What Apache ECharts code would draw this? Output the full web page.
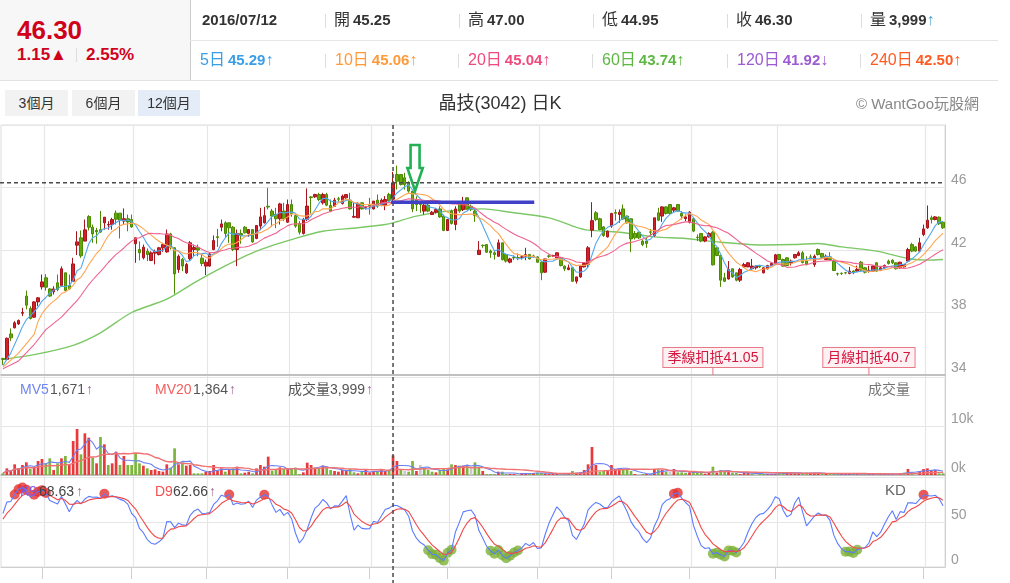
<!DOCTYPE html>
<html><head><meta charset="utf-8">
<script src="https://cdn.jsdelivr.net/npm/echarts/dist/echarts.min.js"></script>
<style>
html,body{margin:0;padding:0;width:1010px;height:583px;overflow:hidden;background:#fff;font-family:"Liberation Sans","Noto Sans CJK TC",Arial,sans-serif;}
#chart{position:absolute;left:0;top:0;width:1010px;height:583px;}
.a{position:absolute;white-space:nowrap;}
.b{font-weight:bold;}
.sep{position:absolute;width:1px;height:14px;background:#ddd;}
.btn{position:absolute;top:90px;height:26px;line-height:26px;text-align:center;font-size:14px;color:#333;background:#f2f2f2;}
</style></head>
<body>
<div id="chart"></div>
<div class="a" style="left:0;top:0;width:190px;height:80px;background:#f7f7f7;border-right:1px solid #ccc;"></div>
<div class="a" style="left:190px;top:40px;width:808px;height:1px;background:#e6e6e6;"></div>
<div class="a" style="left:0;top:80px;width:998px;height:1px;background:#e2e2e2;"></div>
<div class="a b" style="left:17px;top:17px;font-size:26px;line-height:26px;color:#d0021b;">46.30</div>
<div class="a b" style="left:17px;top:46px;font-size:17px;line-height:17px;color:#d0021b;">1.15▲</div>
<div class="a" style="left:76px;top:48px;width:1px;height:14px;background:#ddd;"></div>
<div class="a b" style="left:86px;top:46px;font-size:17px;line-height:17px;color:#d0021b;">2.55%</div>
<div id="hdr"></div>
<div class="btn" style="left:5px;width:63px;">3個月</div>
<div class="btn" style="left:72px;width:63px;">6個月</div>
<div class="btn" style="left:138px;width:62px;background:#e4edf7;">12個月</div>
<div class="a" style="left:400px;width:200px;top:93px;text-align:center;font-size:18px;line-height:20px;color:#333;">晶技(3042) 日K</div>
<div class="a" style="left:779px;width:200px;top:95px;text-align:right;font-size:15px;line-height:18px;color:#888;">© WantGoo玩股網</div>
<script>
// ---------- data ----------
const monthDays = [
 ['2016/02',[15,16,17,18,19,22,23,24,25,26]],
 ['2016/03',[1,2,3,4,7,8,9,10,11,14,15,16,17,18,21,22,23,24,25,28,29,30,31]],
 ['2016/04',[1,6,7,8,11,12,13,14,15,18,19,20,21,22,25,26,27,28,29]],
 ['2016/05',[3,4,5,6,9,10,11,12,13,16,17,18,19,20,23,24,25,26,27,30,31]],
 ['2016/06',[1,2,3,4,6,7,8,13,14,15,16,17,20,21,22,23,24,27,28,29,30]],
 ['2016/07',[1,4,5,6,7,11,12,13,14,15,18,19,20,21,22,25,26,27,28,29]],
 ['2016/08',[1,2,3,4,5,8,9,10,11,12,15,16,17,18,19,22,23,24,25,26,29,30,31]],
 ['2016/09',[1,2,5,6,7,8,9,10,12,13,14,19,20,21,22,23,26,29,30]],
 ['2016/10',[3,4,5,6,7,11,12,13,14,17,18,19,20,21,24,25,26,27,28,31]],
 ['2016/11',[1,2,3,4,7,8,9,10,11,14,15,16,17,18,21,22,23,24,25,28,29,30]],
 ['2016/12',[1,2,5,6,7,8,9,12,13,14,15,16,19,20,21,22,23,26,27,28,29,30]],
 ['2017/01',[3,4,5,6,9,10,11,12,13,16,17,18,19,20,23,24]],
 ['2017/02',[2,3,6,7,8,9]]
];
const gridMonths = ['2016/03','2016/04','2016/05','2016/06','2016/07','2016/08','2016/09','2016/10','2016/11','2016/12','2017/02'];

const opens = [35.05,35.00,36.63,37.02,37.27,37.95,39.05,38.26,37.70,38.68,39.64,40.22,39.51,39.32,39.90,39.73,40.54,39.73,40.00,42.31,
42.78,42.57,44.14,43.46,43.25,43.30,43.74,43.60,43.63,44.36,44.36,43.85,44.00,43.95,42.40,42.03,41.50,41.92,41.33,41.80,
41.71,42.14,41.88,43.03,42.14,40.75,41.40,40.54,41.44,42.03,42.14,41.48,40.97,40.97,42.03,42.85,43.46,43.74,43.74,43.46,
42.03,43.05,43.46,43.06,43.31,42.74,43.53,43.74,44.80,44.49,44.28,44.00,44.49,43.78,44.91,44.20,43.70,43.06,43.95,45.40,
45.40,45.55,45.02,45.55,44.85,44.80,45.28,44.98,45.34,45.19,44.10,44.06,45.02,44.68,44.85,44.63,45.19,44.85,44.87,45.55,
45.25,46.83,46.83,46.62,46.30,45.77,45.23,44.92,44.49,44.87,44.27,44.42,44.63,44.17,43.25,44.49,43.63,44.91,44.59,45.34,
44.80,44.49,41.71,42.30,42.35,41.93,41.82,41.60,42.46,41.71,41.22,41.52,41.52,41.54,41.60,41.71,41.62,41.56,41.22,40.58,
41.62,41.62,41.50,41.50,40.97,40.75,40.86,40.00,40.28,40.92,41.07,43.27,44.38,44.00,43.48,42.84,43.53,44.40,44.27,44.63,
44.17,44.00,43.06,43.14,42.57,42.57,43.16,42.93,44.38,44.17,44.76,44.91,44.55,44.91,44.34,44.00,43.78,44.00,42.82,43.06,
42.57,42.84,43.14,42.14,41.65,40.22,40.15,40.80,40.54,40.07,40.92,40.92,40.80,40.86,41.00,40.54,40.80,41.01,41.14,41.71,
41.39,41.50,41.18,41.50,41.65,41.82,41.29,41.56,41.07,42.03,41.78,41.39,41.56,41.29,40.48,40.51,40.55,40.50,40.65,40.65,
41.22,40.86,40.65,40.65,41.18,40.71,40.86,41.29,41.35,41.18,40.86,40.92,41.29,42.35,42.20,41.93,42.99,43.42,44.06,43.95,
44.10,43.78];
const closes = [35.00,36.35,36.38,37.34,37.49,38.00,38.47,37.62,38.68,38.94,39.96,39.62,39.05,39.51,39.47,40.80,39.41,39.51,41.11,42.52,
41.63,43.29,43.46,43.03,43.16,43.15,44.10,43.63,43.95,43.97,43.90,44.00,43.80,43.48,42.78,41.82,42.18,41.71,41.82,41.90,
42.14,42.35,43.03,42.18,40.47,41.60,40.97,41.07,42.46,42.16,42.00,41.14,41.22,41.75,42.61,42.80,43.67,43.06,43.42,42.03,
43.06,42.95,43.10,43.31,42.52,43.57,44.12,44.20,44.75,44.17,44.00,44.95,44.00,44.91,44.34,43.53,43.14,43.95,44.81,45.35,
45.55,45.23,45.55,44.87,44.49,45.19,45.25,45.45,45.55,44.63,44.15,44.98,44.63,44.72,44.75,45.13,44.81,45.19,45.23,45.15,
46.30,46.40,46.19,46.19,45.77,44.63,44.90,44.90,44.87,44.49,44.42,44.59,44.12,43.25,43.95,43.70,44.63,44.49,45.06,44.63,
44.63,44.20,41.99,42.28,41.86,41.82,41.71,42.46,41.39,41.29,41.43,41.50,41.50,41.56,41.70,41.43,41.60,41.22,40.54,41.43,
41.60,41.65,41.82,41.01,40.80,40.86,40.00,40.28,40.97,41.14,42.14,43.88,43.95,43.31,42.93,43.20,44.34,44.35,44.42,43.99,
43.74,42.71,42.78,42.78,42.35,42.42,43.14,44.06,43.91,44.76,44.34,44.34,44.70,44.49,44.17,44.12,44.42,43.21,42.80,42.57,
42.84,43.06,41.05,41.65,40.07,40.00,40.75,40.28,40.07,40.75,41.07,41.18,40.97,40.97,40.92,40.86,41.01,41.14,41.69,41.39,
40.97,41.01,41.29,41.71,41.82,41.20,41.07,41.54,41.60,41.71,41.54,41.60,41.39,40.69,40.47,40.50,40.54,40.65,40.54,40.75,
40.71,40.58,40.70,40.97,40.65,40.86,41.01,41.14,41.18,40.80,41.22,41.07,42.03,41.93,41.93,42.46,43.35,43.91,43.95,44.12,
43.68,43.42];
const lows = [34.65,34.95,36.17,36.98,37.20,37.77,38.20,37.55,37.65,38.40,39.47,39.40,39.00,39.15,39.36,39.69,39.36,39.46,39.96,41.68,
41.50,42.57,43.25,42.46,42.40,43.10,43.30,43.30,43.30,43.63,42.74,43.63,43.20,43.42,41.18,41.33,41.40,41.29,41.29,41.08,
41.65,41.88,41.82,42.03,39.20,40.54,40.65,40.47,41.33,41.60,41.60,40.97,40.40,40.93,41.99,42.20,43.20,42.80,42.46,41.93,
40.97,42.40,43.06,42.84,42.46,42.69,43.27,43.69,44.60,43.50,43.40,43.63,43.85,43.74,44.13,43.42,42.99,42.99,43.85,44.34,
45.34,45.13,44.91,44.80,44.42,44.80,45.10,44.91,45.28,44.59,44.06,44.06,44.59,44.59,44.27,44.59,44.70,44.80,44.55,45.10,
44.95,45.87,46.13,45.87,45.66,44.42,44.49,44.38,44.27,44.42,44.27,44.34,44.06,43.21,43.21,43.63,43.27,44.38,44.49,44.59,
44.49,43.80,41.71,42.14,41.82,41.50,41.39,41.56,41.33,41.20,41.15,41.35,41.35,41.39,41.35,41.40,41.50,41.18,40.07,40.54,
41.50,41.55,41.43,40.95,40.65,40.70,39.95,39.85,40.22,40.88,40.86,42.82,43.85,43.27,42.84,42.80,43.42,43.88,43.74,43.95,
43.70,41.86,42.67,42.70,42.25,42.14,42.93,42.84,43.85,43.80,44.27,44.30,44.38,44.45,43.95,43.85,43.70,43.14,42.57,42.50,
42.50,42.80,41.01,41.60,39.64,39.95,40.10,40.22,40.00,39.95,40.86,40.90,40.75,40.75,40.85,40.50,40.75,40.97,41.07,41.35,
40.92,40.97,41.01,41.45,41.60,41.14,41.01,41.40,40.92,41.65,41.45,41.35,41.30,40.65,40.35,40.40,40.45,40.45,40.45,40.60,
40.65,40.50,40.55,40.60,40.60,40.65,40.80,41.07,41.10,40.75,40.80,40.88,41.22,41.86,41.88,41.86,42.88,43.35,43.70,43.90,
43.60,43.35];
const highs = [35.10,36.40,36.98,37.45,37.55,38.30,39.40,38.40,38.72,38.98,40.43,40.45,39.55,39.68,40.43,40.95,40.54,40.43,41.50,43.20,
43.25,43.95,44.23,43.63,43.42,44.50,44.10,43.84,44.06,44.53,44.36,44.66,44.27,44.27,42.78,42.55,42.35,42.10,41.92,42.03,
42.20,42.46,43.31,43.10,42.18,41.71,41.50,41.18,42.57,42.35,42.35,41.71,41.39,41.82,42.93,43.35,43.95,43.84,43.74,43.53,
43.31,43.31,43.53,43.31,43.31,43.57,44.70,44.76,45.98,44.63,44.70,45.02,45.02,45.23,45.23,44.27,43.85,44.06,45.94,45.45,
45.60,45.66,45.66,45.66,45.23,45.34,45.40,45.55,45.55,45.66,45.02,45.06,45.06,44.80,45.34,45.13,45.55,45.30,45.45,45.66,
47.00,47.40,46.83,46.94,46.40,45.77,45.44,45.13,45.02,45.02,44.50,44.70,44.80,44.27,43.99,44.59,44.80,44.91,45.40,45.34,
44.91,44.60,42.57,42.35,42.35,42.03,41.93,42.67,42.46,41.75,41.50,41.65,41.78,41.65,42.14,41.75,41.70,41.60,41.29,41.43,
41.70,41.70,41.86,41.55,41.01,41.07,40.90,40.28,40.97,41.18,42.25,45.06,44.49,44.06,43.53,43.25,44.38,44.60,44.59,44.91,
44.20,44.00,43.21,43.14,42.67,42.78,43.35,44.06,44.70,44.80,44.80,44.91,44.76,44.91,44.49,44.27,44.49,44.06,43.00,43.06,
42.88,43.14,43.21,42.14,41.65,40.54,41.29,40.80,40.54,40.86,41.18,41.22,41.43,41.01,41.05,40.90,41.05,41.20,41.75,41.75,
41.45,41.55,41.39,41.75,41.93,41.93,41.60,41.71,41.71,42.10,41.82,41.71,41.86,41.35,40.55,40.56,40.60,40.92,40.70,41.00,
41.30,40.90,41.00,41.01,41.22,40.92,41.07,41.39,41.40,41.22,41.25,41.10,42.14,42.46,42.25,42.78,43.63,44.85,44.20,44.17,
44.15,43.85];
const volumes = [340,1360,816,2176,1360,2040,2584,1224,1496,2856,3264,2380,3400,1020,2380,3400,3876,2176,6936,9384,
4216,8500,7616,3536,2380,7752,6256,2040,2380,4760,2040,3876,2040,2040,4284,2380,1904,1360,1020,1156,
816,680,2176,1496,5440,2176,2584,1904,2040,340,340,340,680,816,2040,816,1360,680,1020,1360,
1700,340,476,680,340,1360,2040,1700,3740,884,1020,1564,1224,1224,1360,1496,204,544,2516,2040,
1496,1224,1904,1700,1020,816,680,1020,884,1224,544,340,680,1020,544,816,680,1020,816,1020,
3999,2856,1020,816,680,2856,816,2040,1496,1020,680,544,1020,1360,1156,2176,2040,1904,1904,2040,
1360,2584,1700,816,204,204,204,680,680,204,204,204,204,408,408,340,408,476,408,272,
204,204,204,136,204,204,816,476,544,1020,2176,5712,2040,680,816,1020,2040,1224,1360,1224,
1020,816,204,136,204,204,136,1224,1156,1020,680,680,1224,544,544,408,544,680,544,476,
272,476,1700,476,1020,680,680,476,476,204,544,476,204,204,204,204,204,204,204,476,
476,544,476,340,340,204,476,476,476,476,204,204,204,204,204,204,204,204,204,204,
204,340,204,204,204,204,204,204,204,204,340,476,1224,476,476,816,1224,1360,816,1020,
340,340];
// 60-day MA (sparse points)
const ma60Read = {0:35.0,8:35.3,18:35.9,25:36.7,33:38.0,42:38.85,49:39.9,56:40.86,65:41.93,74:42.67,82:43.2,91:43.42,98:43.63,100:43.74,
106:44.17,114:44.49,123:44.63,131:44.38,140:44.06,147:43.45,150:43.27,158:43.14,167:42.84,175:42.74,184:42.5,195:42.32,203:42.35,
209:42.42,215:42.2,224:41.93,232:41.46,237:41.35,241:41.39};
// start of MA lines (before a full window exists)
const ma5Early = {0:34.6,2:35.4};
const ma10Early = {0:34.5,4:35.4,8:36.6};
const ma20Early = {0:34.4,4:34.9,8:35.95,11:36.9,15:37.7,18:38.5};
const priceTicks = [34,38,42,46];
const deductions = [{idx:182,name:'季線扣抵'},{idx:222,name:'月線扣抵'}];
const header1 = [['2016/07/12','',202],['開','45.25',334],['高','47.00',468],['低','44.95',602],['收','46.30',736],['量','3,999',870]];
const header2 = [['5日','45.29','↑',200,'#3a9ee6'],['10日','45.06','↑',335,'#ff9a3a'],['20日','45.04','↑',468,'#ee4a7e'],
                 ['60日','43.74','↑',602,'#5cb843'],['120日','41.92','↓',737,'#9c5bd0'],['240日','42.50','↑',870,'#ff5a22']];
const hoverIdx = 100;

// ---------- header ----------
(function(){
  let h='';
  header1.forEach((r,k)=>{
    if(k===0) h+=`<div class="a b" style="left:${r[2]}px;top:12px;font-size:15px;line-height:16px;color:#333;">${r[0]}</div>`;
    else h+=`<div class="a" style="left:${r[2]}px;top:11px;font-size:16px;line-height:18px;color:#333;">${r[0]}<span class="b" style="font-size:15px;margin-left:3px;">${r[1]}</span>${k===5?'<span style="color:#4a9fc8">↑</span>':''}</div>`;
    if(k>0) h+=`<div class="sep" style="left:${r[2]-9}px;top:14px;"></div>`;
  });
  header2.forEach((r,k)=>{
    h+=`<div class="a" style="left:${r[3]}px;top:51px;font-size:16px;line-height:18px;color:${r[4]};">${r[0]}<span class="b" style="font-size:15px;margin-left:3px;">${r[1]}</span>${r[2]}</div>`;
    if(k>0) h+=`<div class="sep" style="left:${r[3]-10}px;top:54px;"></div>`;
  });
  document.getElementById('hdr').innerHTML=h;
})();

// ---------- derived series ----------
const categories=[]; const monthStart={};
monthDays.forEach(([m,ds])=>{monthStart[m]=categories.length; ds.forEach(d=>categories.push(m+'/'+String(d).padStart(2,'0')));});
const splitSet=new Set(gridMonths.map(m=>monthStart[m]));
const N=categories.length;
function ma(arr,n,early){return arr.map((_,i)=>{if(i<n-1)return early[i]!==undefined?early[i]:null;let s=0;for(let k=i-n+1;k<=i;k++)s+=arr[k];return +(s/n).toFixed(2);});}
function maPartial(arr,n){return arr.map((_,i)=>{const a=Math.max(0,i-n+1);let s=0;for(let k=a;k<=i;k++)s+=arr[k];return Math.round(s/(i-a+1));});}
const ma5=ma(closes,5,ma5Early), ma10=ma(closes,10,ma10Early), ma20=ma(closes,20,ma20Early);
const ma60=categories.map((_,i)=>ma60Read[i]!==undefined?ma60Read[i]:null);
const mv5=maPartial(volumes,5), mv20=maPartial(volumes,20);
const kArr=[],dArr=[];(function(){let K=50,D=50;for(let i=0;i<N;i++){const a=Math.max(0,i-8);let lo=Infinity,hi=-Infinity;for(let k=a;k<=i;k++){lo=Math.min(lo,lows[k]);hi=Math.max(hi,highs[k]);}const rsv=hi===lo?50:(closes[i]-lo)/(hi-lo)*100;K=K*2/3+rsv/3;D=D*2/3+K/3;kArr.push(+K.toFixed(2));dArr.push(+D.toFixed(2));}})();
const kDots=kArr.map(k=>(k>80||k<20)?k:null);
const candle=categories.map((_,i)=>[opens[i],closes[i],lows[i],highs[i]]);
const volData=volumes.map((v,i)=>{const p=i>0?closes[i-1]:opens[i];const c=closes[i]>p?'#e8393b':(closes[i]<p?'#7cb53e':'#c8c8c8');return {value:v,itemStyle:{color:c}};});

const chart=echarts.init(document.getElementById('chart'),null,{renderer:'canvas'});
const gridBase={left:1,width:944,show:true,borderColor:'#dcdcdc',borderWidth:1};
function xAx(g,extra){return Object.assign({type:'category',gridIndex:g,data:categories,boundaryGap:true,
  axisLabel:{show:false},axisTick:{show:false},axisLine:{show:true,lineStyle:{color:'#b4b4b4',width:1.5}},
  splitLine:{show:true,interval:(i)=>splitSet.has(i-1),lineStyle:{color:'#e6e6e6',width:1.2}}},extra||{});}
const yLbl={color:'#9a9a9a',fontSize:14,verticalAlign:'bottom',margin:6,fontFamily:'Liberation Sans'};
const option={
  animation:false,
  grid:[Object.assign({top:125,height:250},gridBase),Object.assign({top:375,height:100},gridBase),Object.assign({top:475,height:92},gridBase)],
  xAxis:[xAx(0),xAx(1),xAx(2,{offset:5,axisLine:{show:true,lineStyle:{color:'#cfcfcf',width:1}},
     axisTick:{show:true,alignWithLabel:true,length:12,interval:(i)=>splitSet.has(i),lineStyle:{color:'#cfcfcf'}}})],
  yAxis:[
    {type:'value',gridIndex:0,position:'right',min:34,max:50,interval:4,axisLine:{show:true,lineStyle:{color:'#d0d0d0'}},axisTick:{show:false},
     axisLabel:Object.assign({formatter:v=>priceTicks.includes(v)?String(v):''},yLbl),splitLine:{lineStyle:{color:'#e6e6e6',width:1.2}}},
    {type:'value',gridIndex:1,position:'right',min:0,max:20400,interval:10000,axisLine:{show:true,lineStyle:{color:'#d0d0d0'}},axisTick:{show:false},
     axisLabel:Object.assign({formatter:v=>(v===0||v===10000)?(v/1000)+'k':''},yLbl),splitLine:{lineStyle:{color:'#e6e6e6',width:1.2}}},
    {type:'value',gridIndex:2,position:'right',min:0,max:102,interval:50,axisLine:{show:true,lineStyle:{color:'#d0d0d0'}},axisTick:{show:false},
     axisLabel:Object.assign({formatter:v=>(v===0||v===50)?String(v):''},yLbl),splitLine:{lineStyle:{color:'#e6e6e6',width:1.2}}}
  ],
  series:[
    {type:'candlestick',xAxisIndex:0,yAxisIndex:0,data:candle,barWidth:3,z:3,
     itemStyle:{color:'#d42028',color0:'#62a80c',borderColor:'#a8141b',borderColor0:'#4c8a00',borderWidth:1}},
    {type:'line',xAxisIndex:0,yAxisIndex:0,data:ma5,showSymbol:false,connectNulls:true,lineStyle:{color:'#52a7ec',width:1.1},z:4},
    {type:'line',xAxisIndex:0,yAxisIndex:0,data:ma10,showSymbol:false,connectNulls:true,lineStyle:{color:'#ffa650',width:1.1},z:4},
    {type:'line',xAxisIndex:0,yAxisIndex:0,data:ma20,showSymbol:false,connectNulls:true,lineStyle:{color:'#f0628f',width:1.1},z:4},
    {type:'line',xAxisIndex:0,yAxisIndex:0,data:ma60,showSymbol:false,connectNulls:true,smooth:0.3,lineStyle:{color:'#7cc866',width:1.4},z:2},
    {type:'bar',xAxisIndex:1,yAxisIndex:1,data:volData,barWidth:2.7},
    {type:'line',xAxisIndex:1,yAxisIndex:1,data:mv5,showSymbol:false,lineStyle:{color:'#6b80f2',width:1.1}},
    {type:'line',xAxisIndex:1,yAxisIndex:1,data:mv20,showSymbol:false,lineStyle:{color:'#f07272',width:1.4}},
    {type:'line',xAxisIndex:2,yAxisIndex:2,data:kArr,showSymbol:false,lineStyle:{color:'#5b7cff',width:1.1},z:3},
    {type:'line',xAxisIndex:2,yAxisIndex:2,data:dArr,showSymbol:false,lineStyle:{color:'#f04848',width:1.1},z:3},
    {type:'scatter',xAxisIndex:2,yAxisIndex:2,data:kDots,symbolSize:10,z:2,
     itemStyle:{color:p=>p.value>50?'#e5312f':'#7db23a'}}
  ]
};
chart.setOption(option);

// ---------- annotations positioned from data ----------
const px=(i,v)=>chart.convertToPixel({gridIndex:0},[i,v]);
const s=px(1,40)[0]-px(0,40)[0];
const xc=px(hoverIdx,40)[0];
const g=[];
const dash={stroke:'#4a4a4a',lineWidth:1.5,lineDash:[4,3]};
g.push({type:'line',shape:{x1:0,y1:px(0,closes[hoverIdx])[1],x2:945,y2:px(0,closes[hoverIdx])[1]},style:dash,z:100});
g.push({type:'line',shape:{x1:xc,y1:125,x2:xc,y2:583},style:dash,z:100});
// blue horizontal line
const by=px(0,45.06)[1];
g.push({type:'line',shape:{x1:px(99,0)[0]+0.5*s,y1:by,x2:px(136,0)[0]+0.2*s,y2:by},style:{stroke:'#4040c8',lineWidth:3.5},z:101});
// green hollow arrow
const tx=px(105,0)[0]+0.65*s, ty=px(0,45.78)[1];
g.push({type:'polygon',shape:{points:[[tx,ty],[tx-7.7,ty-23],[tx-4.5,ty-23],[tx-4.5,ty-46],[tx+4.5,ty-46],[tx+4.5,ty-23],[tx+7.7,ty-23]]},
  style:{fill:'rgba(0,0,0,0)',stroke:'#22b055',lineWidth:2.6},z:102});
// deduction labels
deductions.forEach(d=>{
  const cx=px(d.idx,0)[0];
  g.push({type:'line',shape:{x1:cx,y1:367,x2:cx,y2:375},style:{stroke:'#e57584',lineWidth:1},z:100});
  g.push({type:'text',x:cx,y:367,style:{text:d.name+closes[d.idx],fill:'#d4153d',font:'14px "Liberation Sans","Noto Sans CJK TC"',
    align:'center',verticalAlign:'bottom',backgroundColor:'#fdf1f3',borderColor:'#e87a88',borderWidth:1,padding:[3,4,2,4]},z:100});
});
// pane legends
const T=(x,y,text,fill,size)=>g.push({type:'text',x:x,y:y,style:{text:text,fill:fill,font:(size||14)+'px "Liberation Sans","Noto Sans CJK TC"',verticalAlign:'middle'},z:110});
T(20,390,'MV5','#7185f0');T(50,390,'1,671','#555');T(86,390,'↑','#a06a9a');
T(155,390,'MV20','#f06060');T(193,390,'1,364','#555');T(229,390,'↑','#a06a9a');
T(288,390,'成交量','#555');T(330,390,'3,999','#555');T(366,390,'↑','#a06a9a');
T(868,390,'成交量','#777');
T(20,492,'K9','#7a5cf0');T(39,492,'68.63','#444');T(76,492,'↑','#a06a9a');
T(155,492,'D9','#f05050');T(173,492,'62.66','#444');T(209,492,'↑','#a06a9a');
T(885,491,'KD','#666',15);
chart.setOption({graphic:g});
</script>
</body></html>
